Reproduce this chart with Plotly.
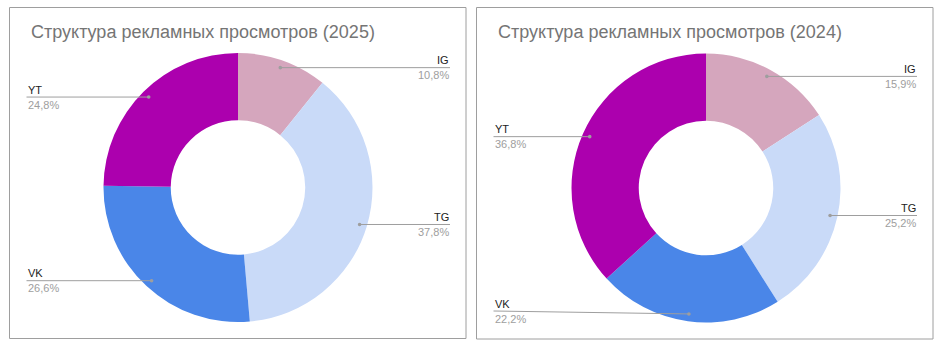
import math
import plotly.graph_objects as go

W, H = 944, 353

categories = ["IG", "TG", "VK", "YT"]
values_2025 = [10.8, 37.8, 26.6, 24.8]
values_2024 = [15.9, 25.2, 22.2, 36.8]
titles = ["Структура рекламных просмотров (2025)", "Структура рекламных просмотров (2024)"]
colors = ["#d5a6bd", "#c9daf8", "#4a86e8", "#ac00ae"]

# panel geometry (pixels)
panels = [
    dict(x0=9.5, x1=466, y0=7.5, y1=338.5, cx=238, cy=187.5, r=134.5, vals=values_2025, title=titles[0]),
    dict(x0=476.5, x1=933, y0=7.5, y1=339, cx=706, cy=188, r=134.5, vals=values_2024, title=titles[1]),
]

FONT = "Arial, Liberation Sans, sans-serif"

def px(x):
    return x / W

def py(y):
    return 1 - y / H

fig = go.Figure()
shapes = []
annotations = []

for p in panels:
    fig.add_trace(go.Pie(
        labels=categories, values=p["vals"], hole=0.5, sort=False,
        direction="clockwise", rotation=0,
        marker=dict(colors=colors, line=dict(width=0)),
        textinfo="none", hoverinfo="label+percent", showlegend=False,
        domain=dict(x=[px(p["cx"] - p["r"]), px(p["cx"] + p["r"])],
                    y=[py(p["cy"] + p["r"]), py(p["cy"] - p["r"])]),
    ))
    # panel border
    shapes.append(dict(type="rect", xref="paper", yref="paper",
                       x0=px(p["x0"]), x1=px(p["x1"]), y0=py(p["y1"]), y1=py(p["y0"]),
                       line=dict(color="#9e9e9e", width=1), layer="above"))
    annotations.append(dict(text=p["title"], xref="paper", yref="paper",
                            x=px(p["x0"] + 19), y=py(32), xanchor="left", yanchor="middle",
                            showarrow=False, font=dict(family=FONT, size=18, color="#757575")))
    total = sum(p["vals"])
    cum = 0
    for name, v in zip(categories, p["vals"]):
        mid = (cum + v / 2) / total * 2 * math.pi
        cum += v
        rd = p["r"] * 0.945
        dx = p["cx"] + rd * math.sin(mid)
        dy = p["cy"] - rd * math.cos(mid)
        right = math.sin(mid) > 0
        ly = min(dy, p["y1"] - 28)
        lx = p["x1"] - 16 if right else p["x0"] + 17
        shapes.append(dict(type="line", xref="paper", yref="paper",
                           x0=px(lx), y0=py(ly), x1=px(dx), y1=py(dy),
                           line=dict(color="#9e9e9e", width=1), layer="above"))
        shapes.append(dict(type="circle", xref="paper", yref="paper",
                           x0=px(dx - 1.8), x1=px(dx + 1.8), y0=py(dy + 1.8), y1=py(dy - 1.8),
                           fillcolor="#9e9e9e", line=dict(width=0), layer="above"))
        anchor = "right" if right else "left"
        annotations.append(dict(text=name, xref="paper", yref="paper",
                                x=px(lx), y=py(ly - 0.5), xanchor=anchor, yanchor="bottom",
                                showarrow=False, borderpad=0,
                                font=dict(family=FONT, size=11, color="#222222")))
        annotations.append(dict(text=f"{v:.1f}".replace(".", ",") + "%", xref="paper", yref="paper",
                                x=px(lx), y=py(ly + 0.5), xanchor=anchor, yanchor="top",
                                showarrow=False, borderpad=0,
                                font=dict(family=FONT, size=11, color="#9e9e9e")))

fig.update_layout(width=W, height=H, margin=dict(l=0, r=0, t=0, b=0),
                  paper_bgcolor="white", plot_bgcolor="white",
                  shapes=shapes, annotations=annotations)
fig.write_html("out.html")
